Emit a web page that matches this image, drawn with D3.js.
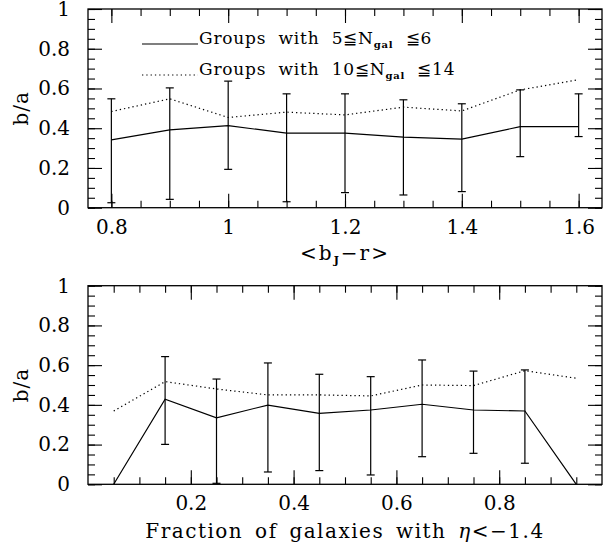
<!DOCTYPE html>
<html lang="en">
  <head>
    <meta charset="UTF-8" />
    <title>b/a vs colour and eta fraction</title>
    <script src="https://d3js.org/d3.v7.min.js"></script>
    <style>
      body {
        margin: 0;
        background: #fff;
      }
      text {
        font-family: "DejaVu Serif", serif;
        fill: #000;
      }
    </style>
  </head>
  <body>
    <script>
      // top panel: <bJ - r>
      const colourX = [0.8, 0.9, 1.0, 1.1, 1.2, 1.3, 1.4, 1.5, 1.6];
      const colourSmall = [0.341, 0.392, 0.413, 0.375, 0.375, 0.355, 0.345, 0.408, 0.408];
      const colourSmallLo = [0.025, 0.042, 0.193, 0.03, 0.076, 0.064, 0.081, 0.257, 0.358];
      const colourSmallHi = [0.548, 0.603, 0.637, 0.573, 0.573, 0.543, 0.523, 0.593, 0.573];
      const colourBig = [0.484, 0.548, 0.454, 0.481, 0.467, 0.506, 0.487, 0.593, 0.644];

      // bottom panel: fraction of galaxies with eta < -1.4
      const etaX = [0.05, 0.15, 0.25, 0.35, 0.45, 0.55, 0.65, 0.75, 0.85, 0.95];
      const etaSmall = [0, 0.428, 0.335, 0.399, 0.357, 0.374, 0.403, 0.374, 0.369, 0];
      // no error bar at the two end bins
      const etaSmallLo = [null, 0.201, 0.005, 0.062, 0.069, 0.047, 0.139, 0.156, 0.106, null];
      const etaSmallHi = [null, 0.643, 0.53, 0.611, 0.554, 0.542, 0.626, 0.57, 0.576, null];
      const etaBig = [0.369, 0.517, 0.48, 0.45, 0.45, 0.445, 0.5, 0.497, 0.572, 0.534];

      const yMajor = [0, 0.2, 0.4, 0.6, 0.8, 1];
      const yMinor = d3.range(0, 1.001, 0.05);
      const colourMajor = [0.8, 1.0, 1.2, 1.4, 1.6];
      const colourMinor = d3.range(0.8, 1.601, 0.05);
      const etaMajor = [0.2, 0.4, 0.6, 0.8];
      const etaMinor = d3.range(0.05, 0.951, 0.05);

      const W = 603, H = 548;
      const left = 88, right = 602;

      const svg = d3.select("body").append("svg")
        .attr("width", W).attr("height", H);
      svg.append("rect").attr("width", W).attr("height", H).attr("fill", "#fff");

      function drawPanel(opt) {
        const x = d3.scaleLinear().domain(opt.xDomain).range([left, right]);
        const y = d3.scaleLinear().domain([0, 1]).range([opt.bottom, opt.top]);
        const g = svg.append("g");
        const fmt = d => d3.format("~g")(d);

        // ticks on all four sides, pointing inward (negative tick size)
        const sides = [
          { make: () => d3.axisBottom(x), t: `translate(0,${opt.bottom})`, isX: true, label: true },
          { make: () => d3.axisTop(x), t: `translate(0,${opt.top})`, isX: true, label: false },
          { make: () => d3.axisLeft(y), t: `translate(${left},0)`, isX: false, label: true },
          { make: () => d3.axisRight(y), t: `translate(${right},0)`, isX: false, label: false }
        ];
        sides.forEach(s => {
          g.append("g").attr("transform", s.t)
            .call(s.make().tickValues(s.isX ? opt.xMinor : yMinor)
              .tickSizeInner(-7).tickSizeOuter(0).tickFormat(""));
          g.append("g").attr("transform", s.t)
            .call(s.make().tickValues(s.isX ? opt.xMajor : yMajor)
              .tickSizeInner(-14).tickSizeOuter(0)
              .tickPadding(s.isX ? 12 : 18)
              .tickFormat(s.label ? fmt : ""));
        });
        g.selectAll(".domain").remove();
        g.selectAll(".tick line").attr("stroke", "#000").attr("stroke-width", 1.1);
        g.selectAll(".tick text").attr("font-size", 20)
          .attr("font-family", "DejaVu Serif, serif").attr("fill", "#000");

        g.append("rect")
          .attr("x", left).attr("y", opt.top)
          .attr("width", right - left).attr("height", opt.bottom - opt.top)
          .attr("fill", "none").attr("stroke", "#000").attr("stroke-width", 1.3);

        const line = d3.line().x((d, i) => x(opt.xs[i])).y(d => y(d));
        g.append("path").datum(opt.small).attr("d", line)
          .attr("fill", "none").attr("stroke", "#000").attr("stroke-width", 1.2);
        g.append("path").datum(opt.big).attr("d", line)
          .attr("fill", "none").attr("stroke", "#000").attr("stroke-width", 1.2)
          .attr("stroke-dasharray", "1.3,3");

        const bars = opt.xs.map((v, i) => ({ x: v, lo: opt.lo[i], hi: opt.hi[i] }))
          .filter(d => d.lo !== null);
        const eb = g.selectAll(".eb").data(bars).join("g").attr("class", "eb")
          .attr("stroke", "#000").attr("stroke-width", 1.2);
        eb.append("line").attr("x1", d => x(d.x)).attr("x2", d => x(d.x))
          .attr("y1", d => y(d.lo)).attr("y2", d => y(d.hi));
        eb.append("line").attr("x1", d => x(d.x) - 4).attr("x2", d => x(d.x) + 4)
          .attr("y1", d => y(d.lo)).attr("y2", d => y(d.lo));
        eb.append("line").attr("x1", d => x(d.x) - 4).attr("x2", d => x(d.x) + 4)
          .attr("y1", d => y(d.hi)).attr("y2", d => y(d.hi));

        // y label
        svg.append("text")
          .attr("transform", `translate(28,${(opt.top + opt.bottom) / 2}) rotate(-90)`)
          .attr("text-anchor", "middle").attr("font-size", 20)
          .attr("letter-spacing", 1).text("b/a");

        return { x, y };
      }

      drawPanel({
        top: 9, bottom: 207.7, xDomain: [0.76, 1.64],
        xMajor: colourMajor, xMinor: colourMinor,
        xs: colourX, small: colourSmall, big: colourBig, lo: colourSmallLo, hi: colourSmallHi
      });
      drawPanel({
        top: 285.7, bottom: 484.3, xDomain: [0, 1],
        xMajor: etaMajor, xMinor: etaMinor,
        xs: etaX, small: etaSmall, big: etaBig, lo: etaSmallLo, hi: etaSmallHi
      });

      // legend
      const legend = [
        { y: 44, dash: null, lo: "5", hi: "6" },
        { y: 75, dash: "1.3,3", lo: "10", hi: "14" }
      ];
      legend.forEach(d => {
        svg.append("line").attr("x1", 142).attr("x2", 198)
          .attr("y1", d.y).attr("y2", d.y)
          .attr("stroke", "#000").attr("stroke-width", 1.2)
          .attr("stroke-dasharray", d.dash);
        const t = svg.append("text").attr("x", 199).attr("y", d.y)
          .attr("font-size", 17).attr("letter-spacing", 0.8).attr("word-spacing", 6);
        t.append("tspan").text(`Groups with ${d.lo}\u2266N`);
        t.append("tspan").attr("dy", 4).attr("font-size", 10).attr("font-weight", "bold").text("gal");
        t.append("tspan").attr("dy", -4).text(` \u2266${d.hi}`);
      });

      // x labels
      const xl = svg.append("text").attr("x", 345).attr("y", 260)
        .attr("text-anchor", "middle").attr("font-size", 20).attr("letter-spacing", 2);
      xl.append("tspan").text("<b");
      xl.append("tspan").attr("dy", 4).attr("font-size", 11).attr("font-weight", "bold").text("J");
      xl.append("tspan").attr("dy", -4).text("\u2212r>");

      const xl2 = svg.append("text").attr("x", 345).attr("y", 538)
        .attr("text-anchor", "middle").attr("font-size", 20)
        .attr("letter-spacing", 1.5).attr("word-spacing", 4);
      xl2.append("tspan").text("Fraction of galaxies with ");
      xl2.append("tspan").attr("font-style", "italic").text("\u03b7");
      xl2.append("tspan").text("<\u22121.4");
    </script>
  </body>
</html>
